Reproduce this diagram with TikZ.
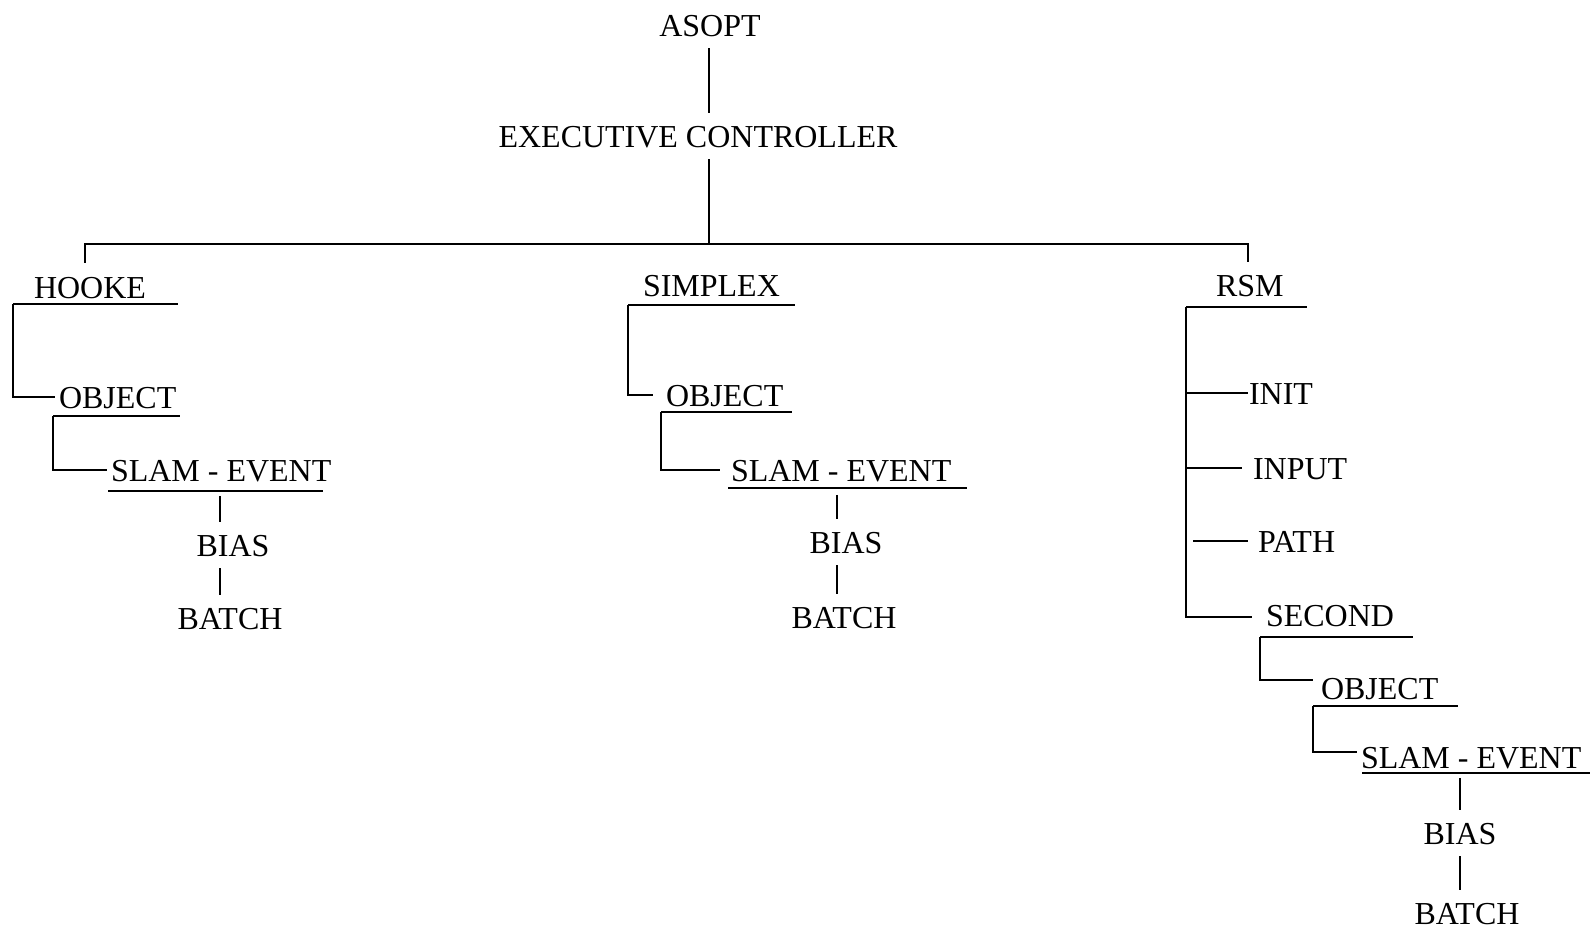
\documentclass[tikz,border=0pt]{standalone}
\usepackage{fontspec}
\setmainfont{Liberation Serif}
\usetikzlibrary{calc}

\begin{document}
\begin{tikzpicture}[line width=0.6pt,
    lbl/.style={inner xsep=0pt, inner ysep=3pt, text height=0.66em, text depth=0pt,
                font=\fontsize{9.1}{11}\selectfont}]
    \useasboundingbox (0,0) rectangle (15.9,-9.28);

    % 顶层
    \node[lbl] (asopt) at (7.10,-0.25) {ASOPT};
    \node[lbl] (exec) at (6.98,-1.36) {EXECUTIVE CONTROLLER};
    \coordinate (bus) at (7.09,-2.44);
    \coordinate (busL) at (0.85,-2.44);
    \coordinate (busR) at (12.48,-2.44);
    \draw (asopt.south -| bus) -- (exec.north -| bus);
    \draw (exec.south -| bus) -- (bus);
    \draw (busL) ++(0,-0.19) -- (busL) -- (busR) -- ++(0,-0.18);

    % HOOKE 分支
    \node[lbl, anchor=west] (hooke) at (0.33,-2.87) {HOOKE};
    \coordinate (hookeU) at (0.13,-3.04);
    \draw (hookeU) -- ++(1.65,0);
    \node[lbl, anchor=west] (objA) at (0.58,-3.97) {OBJECT};
    \draw (hookeU) |- ([xshift=-0.03cm]objA.west);
    \coordinate (objAU) at (0.53,-4.16);
    \draw (objAU) -- ++(1.27,0);
    \node[lbl, anchor=west] (slamA) at (1.10,-4.70) {SLAM - EVENT};
    \draw (objAU) |- ([xshift=-0.03cm]slamA.west);
    \coordinate (slamAU) at (1.08,-4.91);
    \draw (slamAU) -- ++(2.15,0);
    \node[lbl] (biasA) at (2.33,-5.45) {BIAS};
    \node[lbl] (batchA) at (2.30,-6.18) {BATCH};
    \coordinate (stemA) at (2.20,-4.96);
    \draw (stemA) -- (stemA |- biasA.north);
    \draw (stemA |- biasA.south) -- (stemA |- batchA.north);

    % SIMPLEX 分支
    \node[lbl, anchor=west] (simplex) at (6.42,-2.85) {SIMPLEX};
    \coordinate (simplexU) at (6.28,-3.05);
    \draw (simplexU) -- ++(1.67,0);
    \node[lbl, anchor=west] (objB) at (6.65,-3.95) {OBJECT};
    \draw (simplexU) |- ([xshift=-0.12cm]objB.west);
    \coordinate (objBU) at (6.61,-4.12);
    \draw (objBU) -- ++(1.31,0);
    \node[lbl, anchor=west] (slamB) at (7.30,-4.70) {SLAM - EVENT};
    \draw (objBU) |- ([xshift=-0.10cm]slamB.west);
    \coordinate (slamBU) at (7.28,-4.88);
    \draw (slamBU) -- ++(2.39,0);
    \node[lbl] (biasB) at (8.46,-5.42) {BIAS};
    \node[lbl] (batchB) at (8.44,-6.17) {BATCH};
    \coordinate (stemB) at (8.37,-4.95);
    \draw (stemB) -- (stemB |- biasB.north);
    \draw (stemB |- biasB.south) -- (stemB |- batchB.north);

    % RSM 分支
    \node[lbl, anchor=west] (rsm) at (12.15,-2.85) {RSM};
    \coordinate (rsmU) at (11.86,-3.07);
    \draw (rsmU) -- ++(1.21,0);
    \node[lbl, anchor=west] (init) at (12.48,-3.93) {INIT};
    \node[lbl, anchor=west] (input) at (12.52,-4.68) {INPUT};
    \node[lbl, anchor=west] (path) at (12.57,-5.41) {PATH};
    \node[lbl, anchor=west] (second) at (12.65,-6.15) {SECOND};
    \draw (rsmU) |- ([xshift=-0.13cm,yshift=-0.02cm]second.west);
    \draw (rsmU |- init.west) -- (init.west);
    \draw (rsmU |- input.west) -- ([xshift=-0.10cm]input.west);
    \draw ([xshift=0.07cm]rsmU |- path.west) -- ([xshift=-0.09cm]path.west);
    \coordinate (secondU) at (12.60,-6.37);
    \draw (secondU) -- ++(1.53,0);
    \node[lbl, anchor=west] (objC) at (13.20,-6.88) {OBJECT};
    \draw (secondU) |- ([xshift=-0.07cm,yshift=0.08cm]objC.west);
    \coordinate (objCU) at (13.13,-7.06);
    \draw (objCU) -- ++(1.45,0);
    \node[lbl, anchor=west] (slamC) at (13.60,-7.57) {SLAM - EVENT};
    \draw (objCU) |- ([xshift=-0.03cm,yshift=0.05cm]slamC.west);
    \coordinate (slamCU) at (13.62,-7.73);
    \draw (slamCU) -- (15.90,-7.73);
    \node[lbl] (biasC) at (14.60,-8.33) {BIAS};
    \node[lbl] (batchC) at (14.67,-9.13) {BATCH};
    \coordinate (stemC) at (14.60,-7.78);
    \draw (stemC) -- (stemC |- biasC.north);
    \draw (stemC |- biasC.south) -- (stemC |- batchC.north);
\end{tikzpicture}
\end{document}
